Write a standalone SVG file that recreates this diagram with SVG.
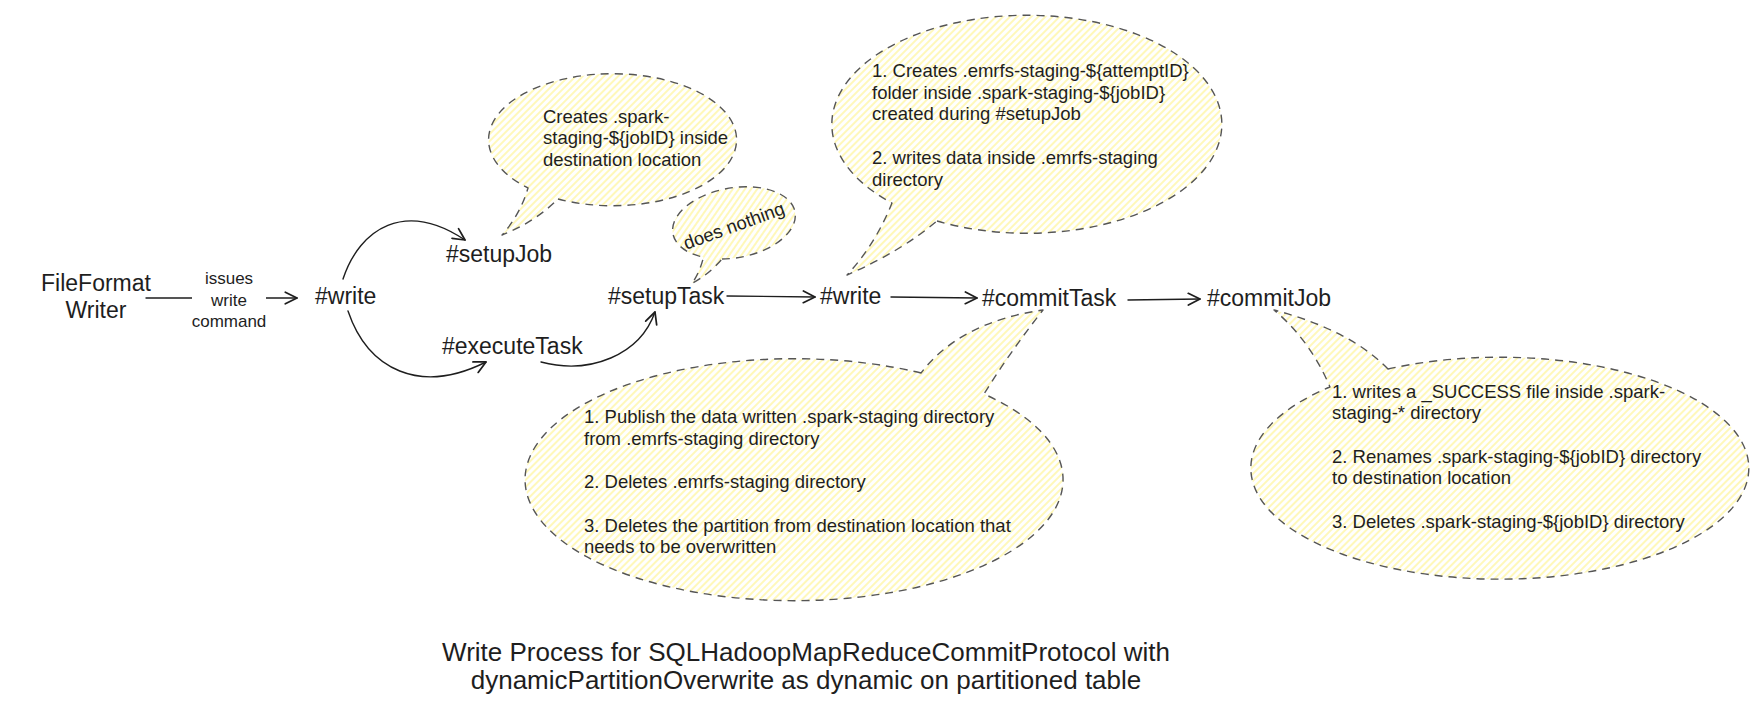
<svg xmlns="http://www.w3.org/2000/svg" width="1762" height="711" viewBox="0 0 1762 711">
<style>
text{font-family:"Liberation Sans",Arial,sans-serif;fill:#1e1e1e}
.node{font-size:23px}
.lbl{font-size:17px;text-anchor:middle}
.note{font-size:18.5px}
.title{font-size:26px;text-anchor:middle}
.conn{fill:none;stroke:#1e1e1e;stroke-width:1.4;stroke-linecap:round;marker-end:url(#arr)}
.bubble{fill:url(#hatch);stroke:#555;stroke-width:1.4;stroke-dasharray:8 6;stroke-linejoin:round}
</style>
<defs>
<pattern id="hatch" patternUnits="userSpaceOnUse" width="5" height="5" patternTransform="rotate(45)">
<rect width="5" height="5" fill="#ffffff"/>
<line x1="1" y1="0" x2="1" y2="5" stroke="#fff59d" stroke-width="1.4"/>
</pattern>
<marker id="arr" viewBox="0 0 12 12" refX="11" refY="6" markerWidth="14" markerHeight="14" orient="auto" markerUnits="userSpaceOnUse">
<path d="M1,1 L11,6 L1,11" fill="none" stroke="#1e1e1e" stroke-width="1.5" stroke-linecap="round" stroke-linejoin="round"/>
</marker>
</defs>
<rect width="1762" height="711" fill="#ffffff"/>

<g id="note-setupjob">
<path class="bubble" d="M 558 199 A 124 66 0 1 0 528 188 Q 520 215 502 235 Q 535 222 558 199 Z"/>
<text class="note" x="543" y="122.5">Creates .spark-</text>
<text class="note" x="543" y="144.2">staging-${jobID} inside</text>
<text class="note" x="543" y="165.9">destination location</text>
</g>

<g id="note-setuptask">
<path class="bubble" transform="rotate(-10 736 223)" d="M 716 256 A 62 35 0 1 0 698 251 Q 692 265 682 275 Q 702 268 716 256 Z"/>
<text class="note" x="734" y="232" text-anchor="middle" transform="rotate(-20 734 226)">does nothing</text>
</g>

<g id="note-write">
<path class="bubble" d="M 937 221 A 195 109 0 1 0 892 203 Q 875 245 847 275 Q 900 252 937 221 Z"/>
<text class="note" x="872" y="77">1. Creates .emrfs-staging-${attemptID}</text>
<text class="note" x="872" y="98.7">folder inside .spark-staging-${jobID}</text>
<text class="note" x="872" y="120.4">created during #setupJob</text>
<text class="note" x="872" y="163.8">2. writes data inside .emrfs-staging</text>
<text class="note" x="872" y="185.5">directory</text>
</g>

<g id="note-committask">
<path class="bubble" d="M 921 373 A 269 121 0 1 0 984 394 Q 1010 352 1043 310 Q 960 322 921 373 Z"/>
<text class="note" x="584" y="423">1. Publish the data written .spark-staging directory</text>
<text class="note" x="584" y="444.7">from .emrfs-staging directory</text>
<text class="note" x="584" y="488.1">2. Deletes .emrfs-staging directory</text>
<text class="note" x="584" y="531.5">3. Deletes the partition from destination location that</text>
<text class="note" x="584" y="553.2">needs to be overwritten</text>
</g>

<g id="note-commitjob">
<path class="bubble" d="M 1388 369 A 249 111 0 1 1 1330 387 Q 1310 340 1274 310 Q 1350 330 1388 369 Z"/>
<text class="note" x="1332" y="397.5">1. writes a _SUCCESS file inside .spark-</text>
<text class="note" x="1332" y="419.2">staging-* directory</text>
<text class="note" x="1332" y="462.6">2. Renames .spark-staging-${jobID} directory</text>
<text class="note" x="1332" y="484.3">to destination location</text>
<text class="note" x="1332" y="527.7">3. Deletes .spark-staging-${jobID} directory</text>
</g>

<g id="connectors">
<path class="conn" d="M 146 298 L 297 298"/>
<path class="conn" d="M 343 279 C 360 228, 405 200, 465 240"/>
<path class="conn" d="M 348 311 C 368 370, 420 395, 486 362"/>
<path class="conn" d="M 541 362 C 590 375, 640 355, 655 312"/>
<path class="conn" d="M 727 296 L 815 297"/>
<path class="conn" d="M 891 297 L 977 298"/>
<path class="conn" d="M 1128 300 L 1200 299"/>
<g id="label-issues">
<rect x="192" y="266" width="74" height="66" fill="#ffffff"/>
<text class="lbl" x="229" y="284">issues</text>
<text class="lbl" x="229" y="305.5">write</text>
<text class="lbl" x="229" y="327">command</text>
</g>
</g>

<g id="node-fileformat">
<text class="node" x="96" y="291" text-anchor="middle">FileFormat</text>
<text class="node" x="96" y="318" text-anchor="middle">Writer</text>
</g>
<g id="node-write1"><text class="node" x="315" y="304">#write</text></g>
<g id="node-setupjob"><text class="node" x="446" y="262">#setupJob</text></g>
<g id="node-executetask"><text class="node" x="442" y="354">#executeTask</text></g>
<g id="node-setuptask"><text class="node" x="608" y="304">#setupTask</text></g>
<g id="node-write2"><text class="node" x="820" y="304">#write</text></g>
<g id="node-committask"><text class="node" x="982" y="306">#commitTask</text></g>
<g id="node-commitjob"><text class="node" x="1207" y="306">#commitJob</text></g>

<g id="title">
<text class="title" x="806" y="661">Write Process for SQLHadoopMapReduceCommitProtocol with</text>
<text class="title" x="806" y="689">dynamicPartitionOverwrite as dynamic on partitioned table</text>
</g>
</svg>
